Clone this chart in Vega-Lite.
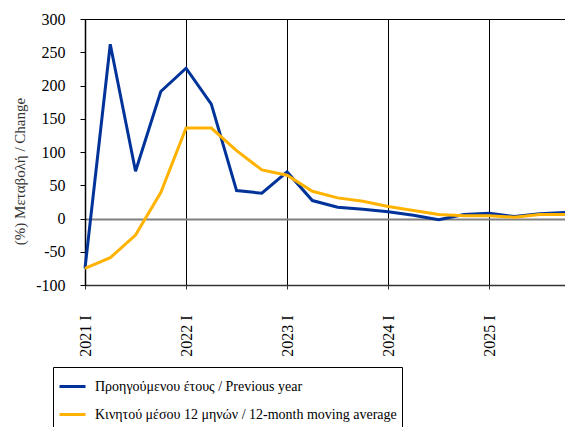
{
  "$schema": "https://vega.github.io/schema/vega-lite/v6.json",
  "width": 480,
  "height": 266,
  "autosize": "none",
  "padding": {"left": 85, "top": 19, "right": 0, "bottom": 142},
  "background": "white",
  "config": {
    "view": {"stroke": "black", "strokeWidth": 1},
    "font": "Liberation Serif"
  },
  "data": {
    "values": [
      {"period": "2021 I", "series": "prev", "value": -75},
      {"period": "2021 II", "series": "prev", "value": 262},
      {"period": "2021 III", "series": "prev", "value": 71},
      {"period": "2021 IV", "series": "prev", "value": 191},
      {"period": "2022 I", "series": "prev", "value": 226},
      {"period": "2022 II", "series": "prev", "value": 172},
      {"period": "2022 III", "series": "prev", "value": 42},
      {"period": "2022 IV", "series": "prev", "value": 38},
      {"period": "2023 I", "series": "prev", "value": 70},
      {"period": "2023 II", "series": "prev", "value": 27},
      {"period": "2023 III", "series": "prev", "value": 17},
      {"period": "2023 IV", "series": "prev", "value": 14},
      {"period": "2024 I", "series": "prev", "value": 10},
      {"period": "2024 II", "series": "prev", "value": 5},
      {"period": "2024 III", "series": "prev", "value": -2},
      {"period": "2024 IV", "series": "prev", "value": 6},
      {"period": "2025 I", "series": "prev", "value": 8},
      {"period": "2025 II", "series": "prev", "value": 3},
      {"period": "2025 III", "series": "prev", "value": 7},
      {"period": "2025 IV", "series": "prev", "value": 9},
      {"period": "2021 I", "series": "ma", "value": -75},
      {"period": "2021 II", "series": "ma", "value": -59},
      {"period": "2021 III", "series": "ma", "value": -25},
      {"period": "2021 IV", "series": "ma", "value": 39},
      {"period": "2022 I", "series": "ma", "value": 136},
      {"period": "2022 II", "series": "ma", "value": 136},
      {"period": "2022 III", "series": "ma", "value": 102},
      {"period": "2022 IV", "series": "ma", "value": 73},
      {"period": "2023 I", "series": "ma", "value": 65},
      {"period": "2023 II", "series": "ma", "value": 41},
      {"period": "2023 III", "series": "ma", "value": 31},
      {"period": "2023 IV", "series": "ma", "value": 26},
      {"period": "2024 I", "series": "ma", "value": 18},
      {"period": "2024 II", "series": "ma", "value": 12},
      {"period": "2024 III", "series": "ma", "value": 6},
      {"period": "2024 IV", "series": "ma", "value": 4},
      {"period": "2025 I", "series": "ma", "value": 4},
      {"period": "2025 II", "series": "ma", "value": 2},
      {"period": "2025 III", "series": "ma", "value": 6},
      {"period": "2025 IV", "series": "ma", "value": 6}
    ]
  },
  "mark": {"type": "line", "strokeWidth": 3},
  "encoding": {
    "x": {
      "field": "period",
      "type": "ordinal",
      "sort": null,
      "scale": {"type": "point", "padding": 0},
      "axis": {
        "title": null,
        "values": ["2021 I", "2022 I", "2023 I", "2024 I", "2025 I"],
        "labelAngle": -90,
        "labelAlign": "right",
        "labelBaseline": "middle",
        "labelFontSize": 16,
        "labelColor": "black",
        "labelPadding": 26,
        "labelOverlap": false,
        "grid": true,
        "gridColor": "black",
        "gridWidth": 1,
        "gridOpacity": 1,
        "domainColor": "#333333",
        "domainWidth": 1.5,
        "tickColor": "#333333",
        "tickSize": 4
      }
    },
    "y": {
      "field": "value",
      "type": "quantitative",
      "scale": {"domain": [-100, 300], "nice": false, "zero": false},
      "axis": {
        "title": "(%) Μεταβολή / Change",
        "titleFontWeight": "normal",
        "titleFontSize": 15,
        "titleColor": "#333333",
        "titleAngle": -90,
        "titleX": -66,
        "titleY": 152,
        "titleAlign": "center",
        "titleBaseline": "middle",
        "values": [-100, -50, 0, 50, 100, 150, 200, 250, 300],
        "format": "d",
        "labelExpr": "replace(datum.label, '−', '-')",
        "labelFontSize": 16,
        "labelColor": "black",
        "labelPadding": 15,
        "labelOverlap": false,
        "labelFlush": false,
        "grid": true,
        "gridColor": {"condition": {"test": "datum.value === 0", "value": "#808080"}, "value": "transparent"},
        "gridWidth": {"condition": {"test": "datum.value === 0", "value": 2}, "value": 0},
        "gridOpacity": 1,
        "domainColor": "black",
        "domainWidth": 1.5,
        "tickColor": "black",
        "tickSize": 5
      }
    },
    "color": {
      "field": "series",
      "type": "nominal",
      "scale": {
        "domain": ["prev", "ma"],
        "range": ["#003399", "#FFB300"]
      },
      "legend": {
        "title": null,
        "orient": "none",
        "legendX": -32,
        "legendY": 348,
        "direction": "vertical",
        "labelExpr": "datum.value == 'prev' ? 'Προηγούμενου έτους / Previous year' : 'Κινητού μέσου 12 μηνών / 12-month moving average'",
        "symbolType": "stroke",
        "symbolSize": 676,
        "symbolStrokeWidth": 3,
        "labelFontSize": 14,
        "labelColor": "black",
        "labelLimit": 0,
        "labelOffset": 8,
        "rowPadding": 6,
        "padding": 5,
        "strokeColor": "black",
        "fillColor": "white"
      }
    }
  }
}
